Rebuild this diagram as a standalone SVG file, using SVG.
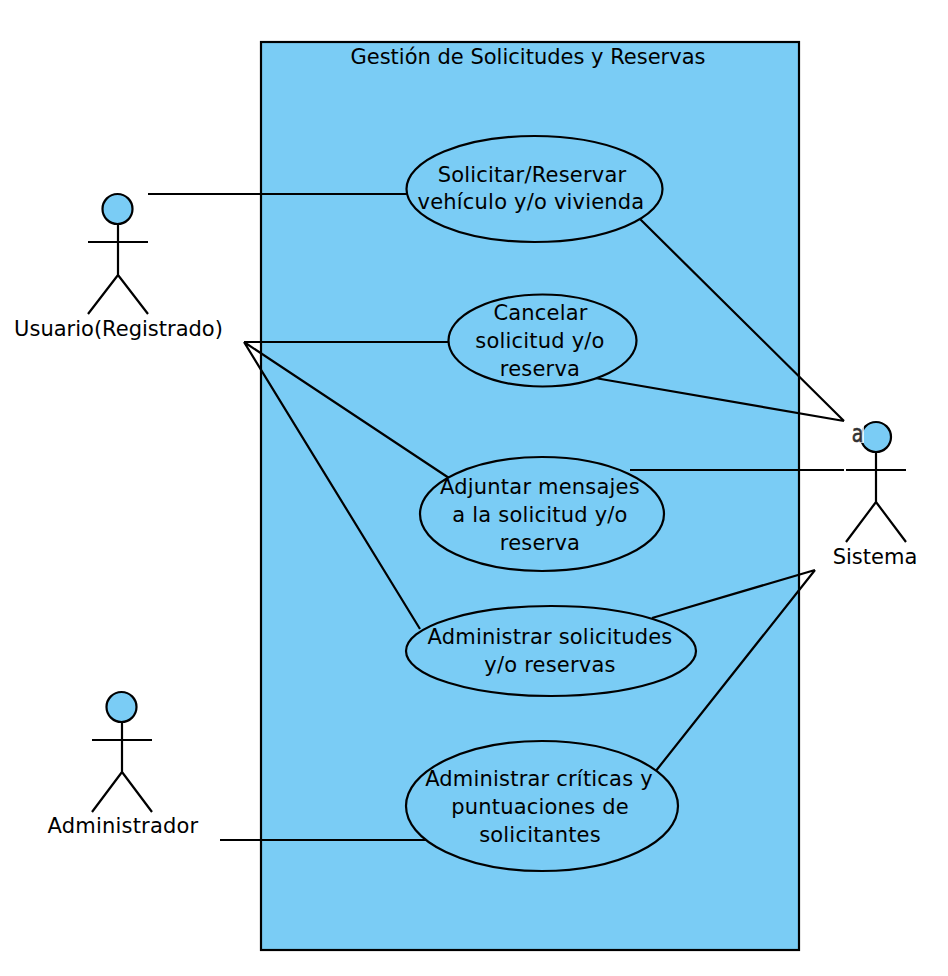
<svg xmlns="http://www.w3.org/2000/svg" width="948" height="976" viewBox="0 0 948 976">
<style>
text{font-family:"DejaVu Sans",Verdana,sans-serif;font-size:21px;fill:#000;text-anchor:middle}
.u text{letter-spacing:.2px}
.s{fill:none;stroke:#000;stroke-width:2.2}
.f{fill:#7accf5;stroke:#000;stroke-width:2.2}
</style>
<rect width="948" height="976" fill="#fff"/>
<g id="system"><rect class="f" x="261" y="42" width="538" height="908"/><text x="528" y="64">Gestión de Solicitudes y Reservas</text></g>
<g id="connectors">
<path class="s" d="M148 194H407M244 342H448M244 342L449 478M244 342L420 629M220 840H428M640 219L844 421M595 378L844 421M630 470H844M652 618L815 570M655 772L815 570"/>
</g>
<g id="uc1" class="u"><ellipse class="f" cx="534.500" cy="189" rx="128" ry="53"/><text x="532" y="182">Solicitar/Reservar</text><text x="531" y="209">vehículo y/o vivienda</text></g>
<g id="uc2" class="u"><ellipse class="f" cx="542.500" cy="340.500" rx="94" ry="46"/><text x="540.500" y="320">Cancelar</text><text x="540" y="348">solicitud y/o</text><text x="540" y="376">reserva</text></g>
<g id="uc3" class="u"><ellipse class="f" cx="542" cy="514" rx="122" ry="57"/><text x="540" y="494">Adjuntar mensajes</text><text x="540" y="522">a la solicitud y/o</text><text x="540" y="550">reserva</text></g>
<g id="uc4" class="u"><ellipse class="f" cx="551" cy="651" rx="145" ry="45"/><text x="550" y="644">Administrar solicitudes</text><text x="550" y="672">y/o reservas</text></g>
<g id="uc5" class="u"><ellipse class="f" cx="542" cy="806" rx="136" ry="65"/><text x="539" y="786">Administrar críticas y</text><text x="540" y="814">puntuaciones de</text><text x="540" y="842">solicitantes</text></g>
<g id="actor-usuario"><circle class="f" cx="117.500" cy="209" r="15"/><path class="s" d="M118 224V275M88 242H148M118 275L88 314M118 275L148 314"/><text x="118.500" y="336">Usuario(Registrado)</text></g>
<g id="actor-admin" class="u"><circle class="f" cx="121.500" cy="707" r="15"/><path class="s" d="M122 722V772M92 740H152M122 772L92 812M122 772L152 812"/><text x="123" y="833">Administrador</text></g>
<g id="actor-sistema"><circle class="f" cx="876" cy="437" r="15"/><path class="s" d="M876 452V502M846 470H906M876 502L846 542M876 502L906 542"/><rect x="851" y="426" width="13" height="17" fill="#fff" fill-opacity=".8"/><text transform="translate(857.500 442) scale(.75 1)" style="font-size:25px;fill:#333;stroke:#333;stroke-width:.6">a</text><text x="875" y="564">Sistema</text></g>
</svg>
